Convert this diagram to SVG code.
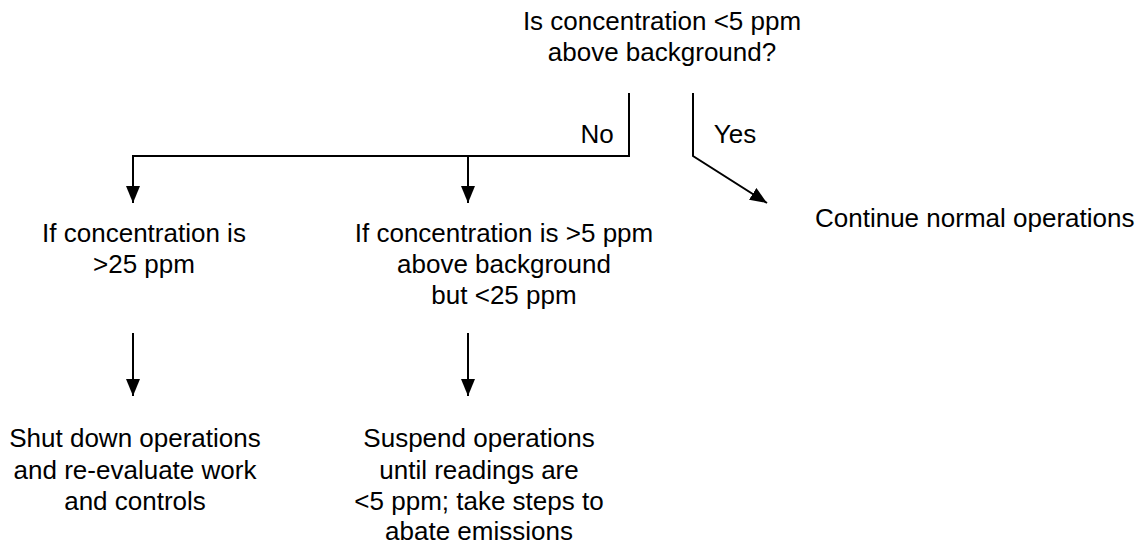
<svg xmlns="http://www.w3.org/2000/svg" width="1136" height="547" viewBox="0 0 1136 547">
<defs>
<marker id="ah" markerWidth="17" markerHeight="14" refX="17" refY="7" orient="auto" markerUnits="userSpaceOnUse" viewBox="0 0 17 14">
<path d="M0,0 L17,7 L0,14 Z" fill="#000"/>
</marker>
<style>
text{font-family:"Liberation Sans",Arial,sans-serif;font-size:26px;fill:#000;text-anchor:middle}
.c line,.c path{stroke:#000;stroke-width:2;fill:none}
</style>
</defs>
<rect width="1136" height="547" fill="#fff"/>
<g id="q"><text x="662" y="30">Is concentration &lt;5 ppm</text><text x="662" y="61">above background?</text></g>
<g id="n1"><text x="144" y="242">If concentration is</text><text x="144" y="273">&gt;25 ppm</text></g>
<g id="n2"><text x="504" y="242">If concentration is &gt;5 ppm</text><text x="504" y="273">above background</text><text x="504" y="304">but &lt;25 ppm</text></g>
<g id="n3"><text x="815" y="227" style="text-anchor:start">Continue normal operations</text></g>
<g id="n4"><text x="135" y="447">Shut down operations</text><text x="135" y="479">and re-evaluate work</text><text x="135" y="510">and controls</text></g>
<g id="n5"><text x="479" y="447">Suspend operations</text><text x="479" y="479">until readings are</text><text x="479" y="510">&lt;5 ppm; take steps to</text><text x="479" y="540">abate emissions</text></g>
<g id="connectors" class="c">
<path d="M629,93 V156 H133 V203" marker-end="url(#ah)"/>
<line x1="468" y1="156" x2="468" y2="203" marker-end="url(#ah)"/>
<path d="M693,93 V156 L767,203" marker-end="url(#ah)"/>
<line x1="133" y1="333" x2="133" y2="396" marker-end="url(#ah)"/>
<line x1="468" y1="333" x2="468" y2="396" marker-end="url(#ah)"/>
<text x="597" y="143">No</text>
<text x="735" y="143">Yes</text>
</g>
</svg>
